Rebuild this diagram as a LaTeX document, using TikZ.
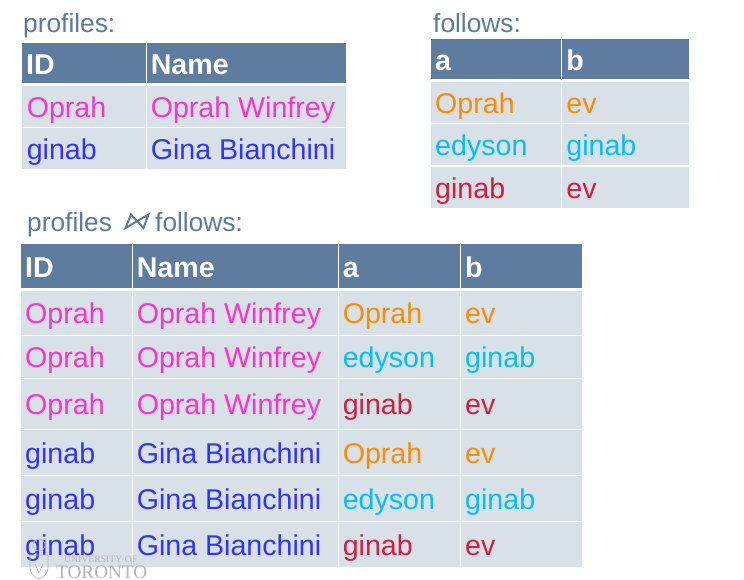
\documentclass[tikz,border=0pt]{standalone}
\usepackage{fontspec}
\setmainfont{Liberation Sans}
\newfontfamily\logofont{Liberation Serif}
\definecolor{headblue}{HTML}{5E7CA0}
\definecolor{cellgrey}{HTML}{D8E0E8}
\definecolor{titleblue}{HTML}{5A7A9E}
\definecolor{cpink}{HTML}{FF33CC}
\definecolor{cblue}{HTML}{3333FF}
\definecolor{corange}{HTML}{FF8C00}
\definecolor{ccyan}{HTML}{00BFFF}
\definecolor{cred}{HTML}{D21F3C}
\definecolor{logogrey}{HTML}{B4B4B4}
\newcounter{cellno}
\tikzset{
 headtext/.style={anchor=base west,inner sep=0pt,text=white,font=\fontsize{28.6}{30}\selectfont\bfseries},
 bodytext/.style={anchor=base west,inner sep=0pt,font=\fontsize{28.6}{30}\selectfont},
 titletext/.style={anchor=base west,inner sep=0pt,text=titleblue,font=\fontsize{26.3}{28}\selectfont},
 logotext/.style={anchor=base west,inner sep=0pt,text=logogrey,font=\logofont},
 logoline/.style={draw=logogrey,line width=0.6pt},
}
% x0 y0 x1 y1 baseline (style) text
\newcommand{\hc}[6]{\stepcounter{cellno}\fill[headblue] (#1,#2) rectangle (#3,#4); \node[headtext] (c\arabic{cellno}) at (#1+4,#5) {#6};}
\newcommand{\bc}[7]{\stepcounter{cellno}\fill[cellgrey] (#1,#2) rectangle (#3,#4); \node[bodytext,text=#6] (c\arabic{cellno}) at (#1+4,#5) {#7};}
\begin{document}
\begin{tikzpicture}[x=1pt,y=-1pt]
\useasboundingbox (0,0) rectangle (744,580);
\node[titletext] (t1) at (23,33) {profiles:};
\node[titletext] (t2) at (433,33) {follows:};
\node[titletext] (t3) at (27,231) {profiles};
\node[titletext] (t4) at (155,231) {follows:};
\draw[titleblue,line width=1.9pt,line join=miter] (125.5,228) -- (131,214.5) -- (143.5,228) -- (148.5,214.5) -- cycle;
% profiles
\hc{22}{43}{145.6}{83.4}{75}{ID}
\hc{146.6}{43}{345.7}{83.4}{75}{Name}
\bc{22}{86.3}{145.6}{127}{118}{cpink}{\kern0.6pt Oprah}
\bc{146.6}{86.3}{345.7}{127}{118}{cpink}{Oprah Winfrey}
\bc{22}{127.8}{145.6}{169.3}{160}{cblue}{\kern0.6pt ginab}
\bc{146.6}{127.8}{345.7}{169.3}{160}{cblue}{Gina Bianchini}
% follows
\hc{431}{38.7}{561.3}{79.3}{71}{a}
\hc{562.2}{38.7}{688.7}{79.3}{71}{b}
\bc{431}{82}{561.3}{123}{114}{corange}{Oprah}
\bc{562.2}{82}{688.7}{123}{114}{corange}{ev}
\bc{431}{123.8}{561.3}{165}{156}{ccyan}{edyson}
\bc{562.2}{123.8}{688.7}{165}{156}{ccyan}{ginab}
\bc{431}{166.7}{561.3}{208}{199}{cred}{ginab}
\bc{562.2}{166.7}{688.7}{208}{199}{cred}{ev}
% join
\hc{21}{244}{131.6}{288}{277}{ID}
\hc{132.6}{244}{337.6}{288}{277}{Name}
\hc{338.6}{244}{460}{288}{277}{a}
\hc{461}{244}{582}{288}{277}{b}
\bc{21}{291}{131.6}{335}{323}{cpink}{Oprah}
\bc{132.6}{291}{337.6}{335}{323}{cpink}{Oprah Winfrey}
\bc{338.6}{291}{460}{335}{323}{corange}{Oprah}
\bc{461}{291}{582}{335}{323}{corange}{ev}
\bc{21}{336}{131.6}{378}{367}{cpink}{Oprah}
\bc{132.6}{336}{337.6}{378}{367}{cpink}{Oprah Winfrey}
\bc{338.6}{336}{460}{378}{367}{ccyan}{edyson}
\bc{461}{336}{582}{378}{367}{ccyan}{ginab}
\bc{21}{379}{131.6}{429}{414}{cpink}{Oprah}
\bc{132.6}{379}{337.6}{429}{414}{cpink}{Oprah Winfrey}
\bc{338.6}{379}{460}{429}{414}{cred}{ginab}
\bc{461}{379}{582}{429}{414}{cred}{ev}
\bc{21}{430}{131.6}{475}{463}{cblue}{ginab}
\bc{132.6}{430}{337.6}{475}{463}{cblue}{Gina Bianchini}
\bc{338.6}{430}{460}{475}{463}{corange}{Oprah}
\bc{461}{430}{582}{475}{463}{corange}{ev}
\bc{21}{476}{131.6}{521}{509}{cblue}{ginab}
\bc{132.6}{476}{337.6}{521}{509}{cblue}{Gina Bianchini}
\bc{338.6}{476}{460}{521}{509}{ccyan}{edyson}
\bc{461}{476}{582}{521}{509}{ccyan}{ginab}
\bc{21}{522}{131.6}{567}{555}{cblue}{ginab}
\bc{132.6}{522}{337.6}{567}{555}{cblue}{Gina Bianchini}
\bc{338.6}{522}{460}{567}{555}{cred}{ginab}
\bc{461}{522}{582}{567}{555}{cred}{ev}
% faint university logo
\draw[logoline] (30,555) -- (48,555) -- (48,568) .. controls (48,574) and (43,577) .. (39,579) .. controls (35,577) and (30,574) .. (30,568) -- cycle;
\draw[logoline] (39,545) circle (6);
\draw[logoline] (35,564) -- (39,573) -- (43,564);
\node[logotext,font=\logofont\fontsize{9.7}{10}\selectfont] (l1) at (64,562) {UNIVERSITY OF};
\node[logotext,font=\logofont\fontsize{19.2}{20}\selectfont] (l2) at (56,578) {TORONTO};
\end{tikzpicture}
\end{document}
